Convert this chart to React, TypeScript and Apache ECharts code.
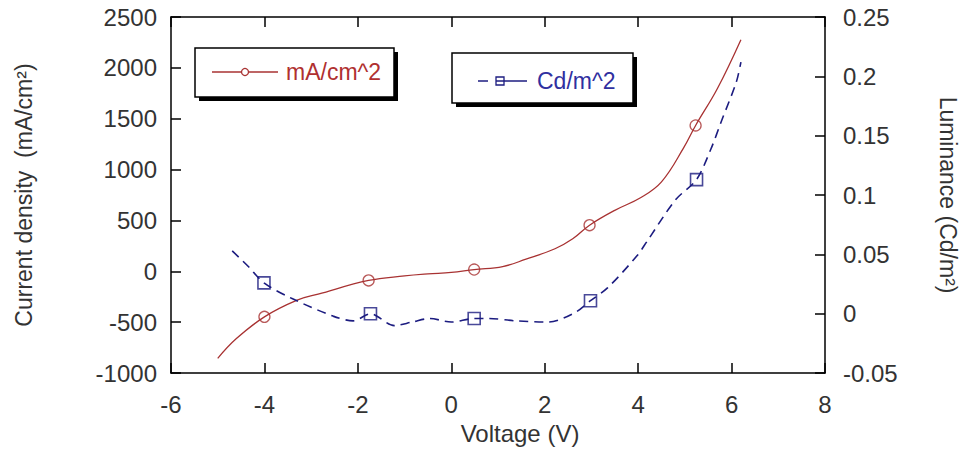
import React, { useEffect, useRef } from "react";
import * as echarts from "echarts";

// Current density curve (mA/cm^2) vs voltage
const voltageJ = [-5.0, -4.6, -4.0, -3.3, -2.85, -1.77, -1.0, -0.5, 0.0, 0.49, 1.1, 1.6, 2.22, 2.6, 2.96, 3.5, 4.06, 4.5, 4.97, 5.23, 5.7, 6.2];
const currentJ = [-855, -661, -447, -283, -224, -89, -45, -25, -10, 18, 47, 120, 222, 320, 454, 600, 726, 880, 1211, 1434, 1800, 2277];
// markers on the current-density curve
const markerVJ = [-4.0, -1.77, 0.49, 2.96, 5.23];
const markerJ = [-447, -89, 18, 454, 1434];

// Luminance curve (Cd/m^2) vs voltage
const voltageL = [-4.69, -4.35, -4.01, -3.42, -2.53, -2.1, -1.73, -1.22, -0.84, -0.46, 0.0, 0.49, 0.8, 1.38, 2.08, 2.65, 2.98, 3.35, 3.98, 4.19, 4.8, 5.25, 5.56, 5.78, 6.1, 6.2];
const luminance = [0.053, 0.04, 0.026, 0.013, -0.002, -0.006, 0.0, -0.01, -0.007, -0.004, -0.007, -0.004, -0.004, -0.006, -0.007, 0.001, 0.011, 0.022, 0.049, 0.061, 0.096, 0.113, 0.139, 0.162, 0.195, 0.212];
const markerVL = [-4.01, -1.73, 0.49, 2.98, 5.25];
const markerL = [0.026, 0.0, -0.004, 0.011, 0.113];

const legendJ = "mA/cm^2";
const legendL = "Cd/m^2";

const RED = "#a83232";
const BLUE = "#1c1c80";
const TXT = "#333";
const FONT = "Liberation Sans, Arial, sans-serif";

export default function App() {
  const ref = useRef<HTMLDivElement>(null);
  useEffect(() => {
    if (!ref.current) return;
    const chart = echarts.init(ref.current, undefined, { renderer: "svg" });
    const axisLine = { show: true, onZero: false, lineStyle: { color: "#000", width: 1.5 } };
    const tick = { show: true, inside: true, length: 10, lineStyle: { color: "#000", width: 1.5 } };
    const label = { color: TXT, fontSize: 24, fontFamily: FONT };
    chart.setOption({
      animation: false,
      textStyle: { fontFamily: FONT },
      grid: { left: 171, right: 135, top: 17, bottom: 72, containLabel: false },
      xAxis: [
        {
          type: "value", min: -6, max: 8, interval: 2, position: "bottom",
          axisLine, axisTick: tick, splitLine: { show: false },
          axisLabel: { ...label, margin: 19, formatter: (v: number) => String(v) },
          name: "Voltage (V)", nameLocation: "middle", nameGap: 37,
          nameTextStyle: { color: TXT, fontSize: 24, fontFamily: FONT, padding: [0, 0, 0, 44] },
        },
        {
          type: "value", min: -6, max: 8, interval: 2, position: "top",
          axisLine, axisTick: tick, splitLine: { show: false }, axisLabel: { show: false },
        },
      ],
      yAxis: [
        {
          type: "value", min: -1000, max: 2500, interval: 500, position: "left",
          axisLine, axisTick: tick, splitLine: { show: false },
          axisLabel: { ...label, margin: 14, formatter: (v: number) => String(v) },
          name: "Current density  (mA/cm²)", nameLocation: "middle", nameGap: 136,
          nameTextStyle: { color: TXT, fontSize: 23, fontFamily: FONT },
        },
        {
          type: "value", min: -0.05, max: 0.25, interval: 0.05, position: "right",
          axisLine, axisTick: tick, splitLine: { show: false },
          axisLabel: { ...label, margin: 18, formatter: (v: number) => String(parseFloat(v.toFixed(2))) },
          name: "Luminance (Cd/m²)", nameLocation: "middle", nameGap: 111, nameRotate: -90,
          nameTextStyle: { color: TXT, fontSize: 23, fontFamily: FONT },
        },
      ],
      series: [
        {
          type: "line", name: legendJ, xAxisIndex: 0, yAxisIndex: 0, smooth: 0.4,
          showSymbol: false, symbol: "none",
          lineStyle: { color: RED, width: 1.3 },
          data: voltageJ.map((v, i) => [v, currentJ[i]]),
        },
        {
          type: "scatter", xAxisIndex: 0, yAxisIndex: 0, symbol: "circle", symbolSize: 11,
          itemStyle: { color: "transparent", borderColor: RED, borderWidth: 1.3 },
          data: markerVJ.map((v, i) => [v, markerJ[i]]),
        },
        {
          type: "line", name: legendL, xAxisIndex: 0, yAxisIndex: 1, smooth: 0.3,
          showSymbol: false, symbol: "none",
          lineStyle: { color: BLUE, width: 1.6, type: [9, 6] },
          data: voltageL.map((v, i) => [v, luminance[i]]),
        },
        {
          type: "scatter", xAxisIndex: 0, yAxisIndex: 1, symbol: "rect", symbolSize: 12,
          itemStyle: { color: "transparent", borderColor: BLUE, borderWidth: 1.6 },
          data: markerVL.map((v, i) => [v, markerL[i]]),
        },
      ],
      graphic: [
        // legend box 1
        { type: "rect", shape: { x: 199, y: 52, width: 199, height: 49 }, style: { fill: "#000" } },
        { type: "rect", shape: { x: 195, y: 48, width: 199, height: 49 }, style: { fill: "#fff", stroke: "#000", lineWidth: 1.5 } },
        { type: "line", shape: { x1: 212, y1: 72, x2: 278, y2: 72 }, style: { stroke: RED, lineWidth: 1.3 } },
        { type: "circle", shape: { cx: 245, cy: 72, r: 3.5 }, style: { fill: "#fff", stroke: RED, lineWidth: 1.3 } },
        { type: "text", x: 286, y: 72, style: { text: legendJ, fill: "#b03030", fontSize: 23, fontFamily: FONT, verticalAlign: "middle", align: "left" } },
        // legend box 2
        { type: "rect", shape: { x: 456, y: 57, width: 181, height: 50 }, style: { fill: "#000" } },
        { type: "rect", shape: { x: 452, y: 53, width: 181, height: 50 }, style: { fill: "#fff", stroke: "#000", lineWidth: 1.5 } },
        { type: "line", shape: { x1: 478, y1: 81, x2: 488, y2: 81 }, style: { stroke: BLUE, lineWidth: 1.5 } },
        { type: "line", shape: { x1: 496, y1: 81, x2: 527, y2: 81 }, style: { stroke: BLUE, lineWidth: 1.5 } },
        { type: "rect", shape: { x: 496, y: 77, width: 8, height: 8 }, style: { fill: "transparent", stroke: BLUE, lineWidth: 1.3 } },
        { type: "text", x: 537, y: 81, style: { text: legendL, fill: "#3030a0", fontSize: 23, fontFamily: FONT, verticalAlign: "middle", align: "left" } },
      ],
    });
    return () => chart.dispose();
  }, []);
  return <div ref={ref} style={{ position: "fixed", left: 0, top: 0, width: 967, height: 450, background: "#fff" }} />;
}
